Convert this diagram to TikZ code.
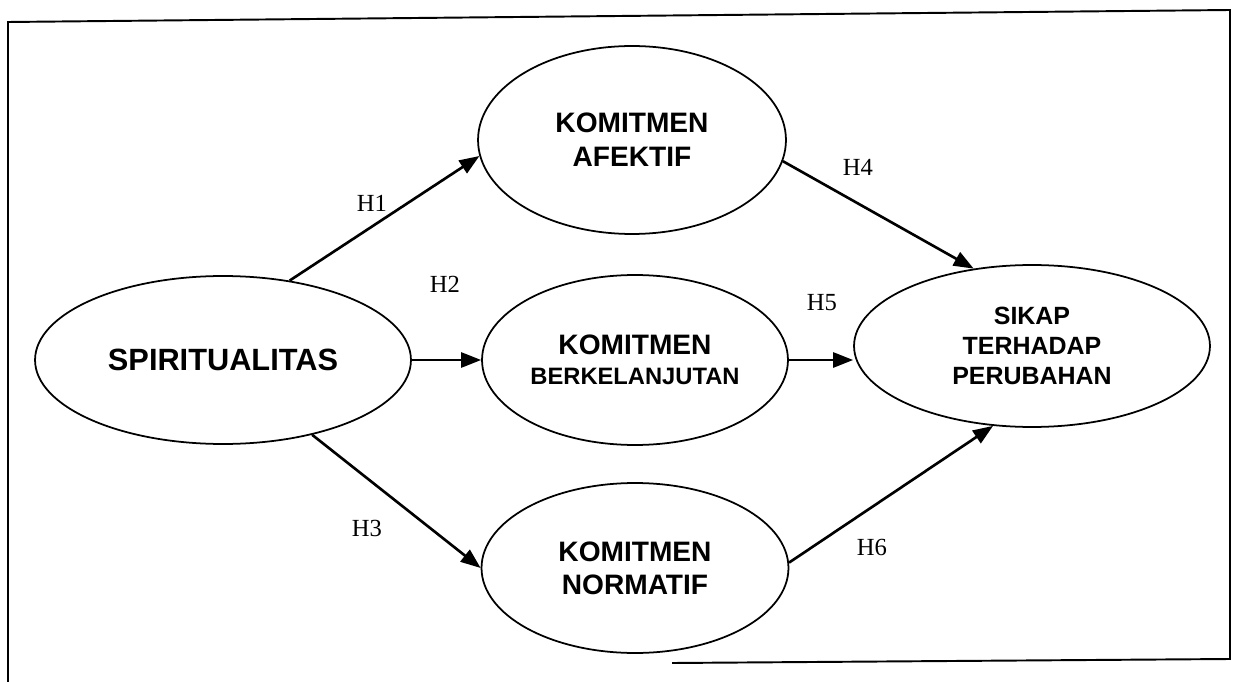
\documentclass[tikz,border=0pt]{standalone}
\usepackage{fontspec}
\setmainfont{Liberation Serif}
\newfontfamily\arialfont{Liberation Sans}
\usetikzlibrary{shapes.geometric,arrows.meta}

\begin{document}
\begin{tikzpicture}[x=0.02cm,y=-0.02cm,
		var/.style={ellipse,draw,line width=1pt,inner sep=0pt,align=center},
		arr/.style={line width=1.5pt,-{Triangle[length=0.4cm,width=0.3cm]}},
		hyp/.style={font=\fontsize{14}{16}\selectfont}]
			\useasboundingbox (0,0) rectangle (1234,682);
			\draw[line width=1.1pt] (8,682) -- (8,22) -- (1230,10) -- (1230,659) -- (672,663);
			\node[var,minimum width=7.52cm,minimum height=3.36cm,font=\arialfont\bfseries\fontsize{17.5}{21}\selectfont] (spir) at (223,360) {SPIRITUALITAS};
			\node[var,minimum width=6.16cm,minimum height=3.76cm,font=\arialfont\bfseries\fontsize{16}{19.5}\selectfont] (afek) at (632,140) {KOMITMEN\\AFEKTIF};
			\node[var,minimum width=6.12cm,minimum height=3.4cm,font=\arialfont\bfseries\fontsize{16}{17}\selectfont] (berk) at (635,360) {KOMITMEN\\{\fontsize{13.5}{17}\selectfont BERKELANJUTAN}};
			\node[var,minimum width=6.14cm,minimum height=3.4cm,font=\arialfont\bfseries\fontsize{16}{18.8}\selectfont] (norm) at (635,568) {KOMITMEN\\NORMATIF};
			\node[var,minimum width=7.12cm,minimum height=3.24cm,font=\arialfont\bfseries\fontsize{14.2}{17}\selectfont] (sikap) at (1032,346) {SIKAP\\TERHADAP\\PERUBAHAN};
			\draw[arr] (spir.50) -- (afek.186);
			\draw[arr] (spir.east) -- (berk.west);
			\draw[arr] (spir.-40) -- (norm.west);
			\draw[arr] (afek.-8) -- (sikap.127);
			\draw[arr] (berk.east) -- (berk.east -| sikap.west);
			\draw[arr] (norm.2) -- (sikap.244);
			\node[hyp] (h1) at (372,203) {H1};
			\node[hyp] (h2) at (445,284) {H2};
			\node[hyp] (h3) at (367,528) {H3};
			\node[hyp] (h4) at (858,167) {H4};
			\node[hyp] (h5) at (822,303) {H5};
			\node[hyp] (h6) at (872,547) {H6};
		\end{tikzpicture}
\end{document}
